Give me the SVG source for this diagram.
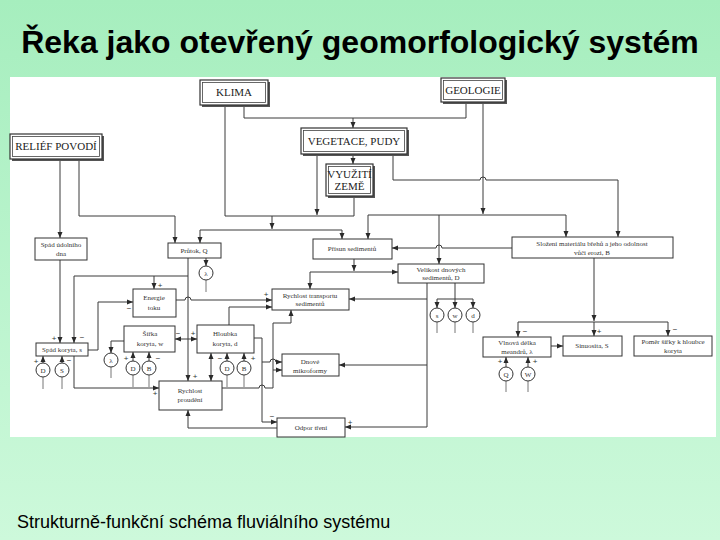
<svg xmlns="http://www.w3.org/2000/svg" width="720" height="540" viewBox="0 0 720 540">
<defs>
<linearGradient id="bg" x1="0" y1="0" x2="0" y2="1">
<stop offset="0" stop-color="#a6eebe"/>
<stop offset="1" stop-color="#cdf9db"/>
</linearGradient>
<marker id="ar" markerWidth="6" markerHeight="6" refX="6" refY="3" orient="auto-start-reverse" markerUnits="userSpaceOnUse">
<path d="M0,0.5 L6,3 L0,5.5 Z" fill="#2a2a2a"/>
</marker>
<style>
.ln{fill:none;stroke:#3a3a3a;stroke-width:1}
.tl{fill:none;stroke:#777;stroke-width:1}
.bx{fill:#fff;stroke:#333;stroke-width:1}
.bo{fill:#fff;stroke:#333;stroke-width:1.2}
.bi{fill:none;stroke:#444;stroke-width:0.8}
.sh{fill:#555}
.t{font-family:"Liberation Serif",serif;font-size:7px;fill:#333;text-anchor:middle}
.T{font-family:"Liberation Serif",serif;font-size:11px;fill:#222;text-anchor:middle}
.c{fill:#fff;stroke:#333;stroke-width:1}
.ct{font-family:"Liberation Serif",serif;font-size:7px;fill:#333;text-anchor:middle}
.pm{font-family:"Liberation Sans",sans-serif;font-size:8px;fill:#333;text-anchor:middle}
</style>
</defs>
<rect width="720" height="540" fill="url(#bg)"/>
<rect x="10" y="77" width="706" height="360" fill="#fff"/>
<text x="360" y="53" font-family="Liberation Sans, Arial, sans-serif" font-weight="bold" font-size="32" text-anchor="middle" fill="#000">Řeka jako otevřený geomorfologický systém</text>
<text x="17" y="528" font-family="Liberation Sans, Arial, sans-serif" font-size="18" fill="#000">Strukturně-funkční schéma fluviálního systému</text>

<g id="connectors">
<path class="ln" d="M244,105 V118 H466 V102"/>
<path class="ln" d="M353,118 V128" marker-end="url(#ar)"/>
<path class="ln" d="M353,154 V164" marker-end="url(#ar)"/>
<path class="ln" d="M225,105 V216 H354 V196"/>
<path class="ln" d="M317,154 V215" marker-end="url(#ar)"/>
<path class="ln" d="M272,216 V229" marker-end="url(#ar)"/>
<path class="ln" d="M200,230 H342"/>
<path class="ln" d="M200,230 V243" marker-end="url(#ar)"/>
<path class="ln" d="M342,230 V239" marker-end="url(#ar)"/>
<path class="ln" d="M60,159 V238" marker-end="url(#ar)"/>
<path class="ln" d="M79,159 V216 H175 V243" marker-end="url(#ar)"/>
<path class="ln" d="M393,154 V180 H480 a3,3 0 0 1 6,0 H618 V237" marker-end="url(#ar)"/>
<path class="ln" d="M483,102 V214" marker-end="url(#ar)"/>
<path class="ln" d="M368,215 H566"/>
<path class="ln" d="M368,215 V239" marker-end="url(#ar)"/>
<path class="ln" d="M439,215 V264" marker-end="url(#ar)"/>
<path class="ln" d="M566,215 V237" marker-end="url(#ar)"/>
<path class="ln" d="M512,248 H442 a3,3 0 0 0 -6,0 H392" marker-end="url(#ar)"/>
<path class="ln" d="M594,258 V321" marker-end="url(#ar)"/>
<path class="ln" d="M518,322 H668"/>
<path class="ln" d="M518,322 V337" marker-end="url(#ar)"/>
<path class="ln" d="M594,322 V336" marker-end="url(#ar)"/>
<path class="ln" d="M668,322 V336" marker-end="url(#ar)"/>
<path class="ln" d="M551,346 H563" marker-end="url(#ar)"/>
<path class="ln" d="M354,259 V271" marker-end="url(#ar)"/>
<path class="ln" d="M310,272 H398" marker-end="url(#ar)"/>
<path class="ln" d="M310,272 V289" marker-end="url(#ar)"/>
<path class="ln" d="M455,283 V299 M437,299 H473"/>
<path class="ln" d="M437,299 V308" marker-end="url(#ar)"/>
<path class="ln" d="M455,299 V308" marker-end="url(#ar)"/>
<path class="ln" d="M473,299 V308" marker-end="url(#ar)"/>
<path class="ln" d="M427,283 V427 H345" marker-end="url(#ar)"/>
<path class="ln" d="M427,299 H349" marker-end="url(#ar)"/>
<path class="ln" d="M427,365 H339" marker-end="url(#ar)"/>
<path class="ln" d="M206,258 V266" marker-end="url(#ar)"/>
<path class="ln" d="M188,258 V381" marker-end="url(#ar)"/>
<path class="ln" d="M188,276 H74 V343" marker-end="url(#ar)"/>
<path class="ln" d="M154,276 V289" marker-end="url(#ar)"/>
<path class="ln" d="M60,260 V343" marker-end="url(#ar)"/>
<path class="ln" d="M88,350 H98 V302 H133" marker-end="url(#ar)"/>
<path class="ln" d="M176,300 H185 a3,3 0 0 1 6,0 H272" marker-end="url(#ar)"/>
<path class="ln" d="M229,325 V307 H272" marker-end="url(#ar)"/>
<path class="ln" d="M175,339 H197" marker-start="url(#ar)" marker-end="url(#ar)"/>
<path class="ln" d="M124,341 H111 V353" marker-end="url(#ar)"/>
<path class="ln" d="M74,356 V388 H159" marker-end="url(#ar)"/>
<path class="ln" d="M211,353 V381" marker-start="url(#ar)" marker-end="url(#ar)"/>
<path class="ln" d="M254,338 H262 V422 H277" marker-end="url(#ar)"/>
<path class="ln" d="M262,362 H270 a3,3 0 0 1 6,0 H282" marker-end="url(#ar)"/>
<path class="ln" d="M222,388 H259 a3,3 0 0 1 6,0 H273 V323 H291 V310" marker-end="url(#ar)"/>
<path class="ln" d="M273,370 H282" marker-end="url(#ar)"/>
<path class="ln" d="M277,428 H188 V410" marker-end="url(#ar)"/>
<path class="ln" d="M43,363 V356" marker-end="url(#ar)"/>
<path class="ln" d="M62,363 V356" marker-end="url(#ar)"/>
<path class="ln" d="M133,361 V352" marker-end="url(#ar)"/>
<path class="ln" d="M149,361 V352" marker-end="url(#ar)"/>
<path class="ln" d="M227,361 V353" marker-end="url(#ar)"/>
<path class="ln" d="M244,361 V353" marker-end="url(#ar)"/>
<path class="ln" d="M506,367 V357" marker-end="url(#ar)"/>
<path class="ln" d="M528,367 V357" marker-end="url(#ar)"/>
<path class="tl" d="M206,280 V292 M111,367 V378 M43,377 V389 M62,377 V389 M133,375 V387 M149,375 V387 M227,375 V387 M244,375 V387 M437,322 V333 M455,322 V333 M473,322 V333 M506,381 V392 M528,381 V392"/>
</g>

<g id="klima"><rect class="sh" x="202" y="82" width="68" height="25"/><rect class="bo" x="200" y="80" width="68" height="25"/><rect class="bi" x="202.5" y="82.5" width="63" height="20"/><text class="T" x="234" y="96">KLIMA</text></g>
<g id="geologie"><rect class="sh" x="443" y="80" width="64" height="24"/><rect class="bo" x="441" y="78" width="64" height="24"/><rect class="bi" x="443.5" y="80.5" width="59" height="19"/><text class="T" x="473" y="94">GEOLOGIE</text></g>
<g id="relief"><rect class="sh" x="12" y="136" width="92" height="25"/><rect class="bo" x="10" y="134" width="92" height="25"/><rect class="bi" x="12.5" y="136.5" width="87" height="20"/><text class="T" x="56" y="150" font-size="10">RELIÉF POVODÍ</text></g>
<g id="vegetace"><rect class="sh" x="303" y="130" width="106" height="26"/><rect class="bo" x="301" y="128" width="106" height="26"/><rect class="bi" x="303.5" y="130.5" width="101" height="21"/><text class="T" x="354" y="145">VEGETACE, PUDY</text></g>
<g id="vyuziti"><rect class="sh" x="328" y="166" width="47" height="32"/><rect class="bo" x="326" y="164" width="47" height="32"/><rect class="bi" x="328.5" y="166.5" width="42" height="27"/><text class="T" x="349.5" y="178" font-size="9">VYUŽITÍ</text><text class="T" x="349.5" y="190" font-size="9">ZEMĚ</text></g>

<g id="spad-udoli"><rect class="bx" x="35" y="238" width="52" height="22"/><text class="t" x="61" y="247">Spád údolního</text><text class="t" x="61" y="256">dna</text></g>
<g id="prutok"><rect class="bx" x="168" y="243" width="53" height="15"/><text class="t" x="194" y="253">Průtok, Q</text></g>
<g id="prisun"><rect class="bx" x="313" y="239" width="79" height="20"/><text class="t" x="352" y="251">Přísun sedimentů</text></g>
<g id="slozeni"><rect class="bx" x="512" y="237" width="161" height="21"/><text class="t" x="592" y="246">Složení materiálu břehů a jeho odolnost</text><text class="t" x="592" y="255">vůči erozi, B</text></g>
<g id="velikost"><rect class="bx" x="398" y="264" width="86" height="19"/><text class="t" x="441" y="272">Velikost dnových</text><text class="t" x="441" y="280">sedimentů, D</text></g>
<g id="energie"><rect class="bx" x="133" y="289" width="43" height="28"/><text class="t" x="154" y="300">Energie</text><text class="t" x="154" y="310">toku</text></g>
<g id="transport"><rect class="bx" x="272" y="289" width="77" height="21"/><text class="t" x="310" y="298">Rychlost transportu</text><text class="t" x="310" y="306">sedimentů</text></g>
<g id="spad-koryta"><rect class="bx" x="36" y="343" width="52" height="13"/><text class="t" x="62" y="352">Spád koryta, s</text></g>
<g id="sirka"><rect class="bx" x="124" y="326" width="51" height="26"/><text class="t" x="150" y="336">Šířka</text><text class="t" x="150" y="346">koryta, w</text></g>
<g id="hloubka"><rect class="bx" x="197" y="325" width="57" height="28"/><text class="t" x="225" y="336">Hloubka</text><text class="t" x="225" y="346">koryta, d</text></g>
<g id="dnove"><rect class="bx" x="282" y="354" width="57" height="22"/><text class="t" x="310" y="364">Dnové</text><text class="t" x="310" y="373">mikroformy</text></g>
<g id="proudeni"><rect class="bx" x="159" y="381" width="63" height="29"/><text class="t" x="190" y="393">Rychlost</text><text class="t" x="190" y="402">proudění</text></g>
<g id="odpor"><rect class="bx" x="277" y="418" width="68" height="19"/><text class="t" x="311" y="430">Odpor tření</text></g>
<g id="vlnova"><rect class="bx" x="483" y="337" width="68" height="20"/><text class="t" x="517" y="345">Vlnová délka</text><text class="t" x="517" y="354">meandrů, λ</text></g>
<g id="sinuosita"><rect class="bx" x="563" y="336" width="59" height="20"/><text class="t" x="592" y="348">Sinuosita, S</text></g>
<g id="pomer"><rect class="bx" x="634" y="336" width="78" height="20"/><text class="t" x="673" y="344">Poměr šířky k hloubce</text><text class="t" x="673" y="353">koryta</text></g>

<g id="circles">
<circle class="c" cx="206" cy="273" r="7"/><text class="ct" x="206" y="275.5">λ</text>
<circle class="c" cx="111" cy="360" r="7"/><text class="ct" x="111" y="362.5">λ</text>
<circle class="c" cx="43" cy="370" r="7"/><text class="ct" x="43" y="372.5">D</text>
<circle class="c" cx="62" cy="370" r="7"/><text class="ct" x="62" y="372.5">S</text>
<circle class="c" cx="133" cy="368" r="7"/><text class="ct" x="133" y="370.5">D</text>
<circle class="c" cx="149" cy="368" r="7"/><text class="ct" x="149" y="370.5">B</text>
<circle class="c" cx="227" cy="368" r="7"/><text class="ct" x="227" y="370.5">D</text>
<circle class="c" cx="244" cy="368" r="7"/><text class="ct" x="244" y="370.5">B</text>
<circle class="c" cx="437" cy="315" r="7"/><text class="ct" x="437" y="317.5">s</text>
<circle class="c" cx="455" cy="315" r="7"/><text class="ct" x="455" y="317.5">w</text>
<circle class="c" cx="473" cy="315" r="7"/><text class="ct" x="473" y="317.5">d</text>
<circle class="c" cx="506" cy="374" r="7"/><text class="ct" x="506" y="376.5">Q</text>
<circle class="c" cx="528" cy="374" r="7"/><text class="ct" x="528" y="376.5">W</text>
</g>

<g id="signs">
<text class="pm" x="160" y="288">+</text>
<text class="pm" x="129" y="311">−</text>
<text class="pm" x="266" y="297">+</text>
<text class="pm" x="54" y="341">+</text>
<text class="pm" x="82" y="340">−</text>
<text class="pm" x="36" y="364">+</text>
<text class="pm" x="69" y="363">−</text>
<text class="pm" x="126" y="361">+</text>
<text class="pm" x="158" y="361">−</text>
<text class="pm" x="220" y="361">−</text>
<text class="pm" x="253" y="361">+</text>
<text class="pm" x="178" y="336">−</text>
<text class="pm" x="193" y="336">+</text>
<text class="pm" x="195" y="379">+</text>
<text class="pm" x="155" y="396">+</text>
<text class="pm" x="272" y="419">−</text>
<text class="pm" x="350" y="425">+</text>
<text class="pm" x="525" y="334">−</text>
<text class="pm" x="599" y="334">+</text>
<text class="pm" x="675" y="332">−</text>
<text class="pm" x="500" y="364">+</text>
<text class="pm" x="535" y="364">+</text>
</g>
</svg>
